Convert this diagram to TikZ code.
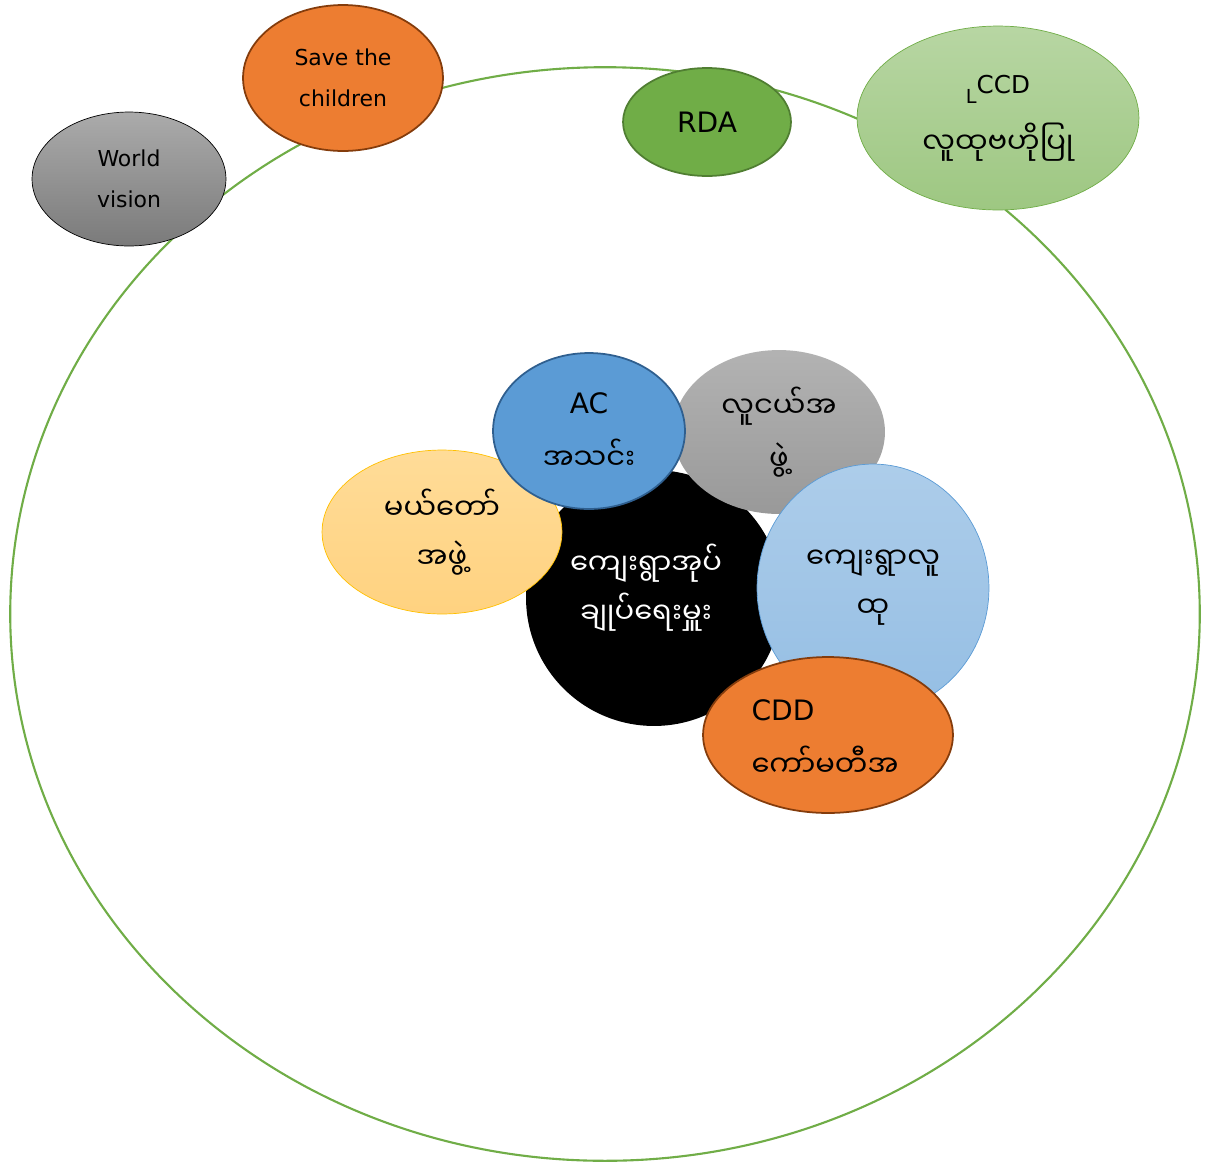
\documentclass[tikz,border=0pt]{standalone}
\usepackage{fontspec}
\setmainfont{DejaVu Sans}
\newfontfamily\mya[Script=Myanmar]{Noto Sans Myanmar UI}
\usetikzlibrary{shapes.geometric}

\definecolor{ringgreen}{HTML}{70AD47}
\definecolor{orgfill}{HTML}{ED7D31}
\definecolor{orgline}{HTML}{843C0C}
\definecolor{rdaline}{HTML}{507E32}
\definecolor{acblue}{HTML}{5B9BD5}
\definecolor{acline}{HTML}{2F5F8F}
\definecolor{yellowtop}{HTML}{FFDC98}
\definecolor{yellowbot}{HTML}{FFD280}
\definecolor{yellowline}{HTML}{FFC000}

% myanmar text
\newcommand{\mytext}[1]{{\mya\fontsize{16.5}{28}\selectfont #1}}

\tikzset{
  bubble/.style={ellipse, inner sep=0pt, align=center},
  radii/.style 2 args={minimum width=#1*0.04cm, minimum height=#2*0.04cm},
  outertext/.style={font=\fontsize{12.5}{23}\selectfont},
  innertext/.style={font=\fontsize{16}{28}\selectfont},
}

\begin{document}
\begin{tikzpicture}[x=0.02cm,y=-0.02cm]
\useasboundingbox (0,0) rectangle (1208,1164);

% big ring
\node[bubble, draw=ringgreen, line width=1.2pt, radii={595}{547}] (ring) at (605,614) {};

% outside partners
\node[bubble, outertext, draw=black, top color=black!33, bottom color=black!52, radii={97}{67}] (wv) at (129,179) {World\\vision};
\node[bubble, outertext, draw=orgline, line width=1pt, fill=orgfill, radii={100}{73}] (stc) at (343,78) {Save the\\children};
\node[bubble, innertext, draw=rdaline, line width=1pt, fill=ringgreen, radii={84}{54}] (rda) at (707,122) {RDA};
\node[bubble, innertext, draw=ringgreen, top color=ringgreen!50, bottom color=ringgreen!68, radii={141}{92}] (ccd) at (998,118)
  {\raisebox{-6pt}{\fontsize{11}{11}\selectfont L}\fontsize{14}{28}\selectfont CCD\\[6pt]\mytext{လူထုဗဟိုပြု}};

% village groups
\node[bubble, fill=black, radii={128}{128}] (head) at (654,598) {};
\node[bubble, innertext, top color=black!30, bottom color=black!40, radii={106}{82}] (youth) at (779,432)
  {\mytext{လူငယ်အ}\\[2pt]\mytext{ဖွဲ့}};
\node[bubble, innertext, draw=yellowline, top color=yellowtop, bottom color=yellowbot, radii={120}{82}] (mother) at (442,532)
  {\mytext{မယ်တော်}\\\mytext{အဖွဲ့}};
\node[bubble, innertext, draw=acline, line width=1pt, fill=acblue, radii={96}{78}] (ac) at (589,431)
  {AC\\[4pt]\mytext{အသင်း}};
\node[innertext, text=white, align=center] (headtext) at (646,588)
  {\mytext{ကျေးရွာအုပ်}\\\mytext{ချုပ်ရေးမှူး}};
\node[bubble, innertext, draw=acblue, top color=acblue!50, bottom color=acblue!65, radii={116}{124}] (people) at (873,588)
  {\mytext{ကျေးရွာလူ}\\\mytext{ထု}};
\node[bubble, innertext, draw=orgline, line width=1pt, fill=orgfill, radii={125}{78}] (cdd) at (828,735) {};
\node[innertext, align=left] (cddtext) at (825,738)
  {CDD\\[4pt]\mytext{ကော်မတီအ}};
\end{tikzpicture}
\end{document}
